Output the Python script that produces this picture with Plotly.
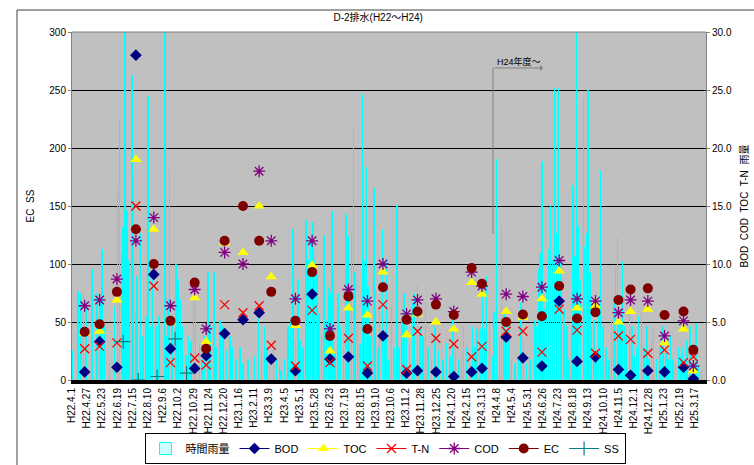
import datetime as dt
import plotly.graph_objects as go

# ---------------- data ----------------
title_text = "D-2排水(H22～H24)"
start_date = "2010-04-01"  # H22.4.1

tick_labels = ["H22.4.1", "H22.4.27", "H22.5.23", "H22.6.19", "H22.7.15", "H22.8.10", "H22.9.6",
               "H22.10.2", "H22.10.29", "H22.11.24", "H22.12.20", "H23.1.16", "H23.2.11", "H23.3.9",
               "H23.4.5", "H23.5.1", "H23.5.28", "H23.6.23", "H23.7.19", "H23.8.15", "H23.9.10",
               "H23.10.6", "H23.11.2", "H23.11.28", "H23.12.25", "H24.1.20", "H24.2.15", "H24.3.13",
               "H24.4.8", "H24.5.4", "H24.5.31", "H24.6.26", "H24.7.23", "H24.8.18", "H24.9.13",
               "H24.10.10", "H24.11.5", "H24.12.1", "H24.12.28", "H25.1.23", "H25.2.19", "H25.3.17"]

# hourly rainfall (mm): day since H22.4.1 and amount
rain_day = [1, 11, 16, 21, 25, 36, 44, 49, 53, 57, 66, 75, 80, 83, 87, 89, 93, 96, 100, 105,
            107, 111, 114, 120, 124, 129, 133, 137, 141, 147, 152, 162, 164, 168, 170, 175, 181, 185, 189, 193,
            199, 203, 208, 212, 215, 222, 227, 231, 237, 241, 247, 251, 258, 263, 269, 275, 279, 286, 293, 298,
            306, 318, 325, 330, 335, 339, 344, 351, 356, 361, 364, 370, 376, 380, 385, 389, 393, 397, 402, 407,
            411, 415, 419, 422, 426, 430, 434, 438, 443, 447, 450, 452, 454, 458, 463, 467, 472, 477, 480, 483,
            486, 490, 492, 497, 501, 505, 508, 512, 515, 518, 521, 525, 528, 532, 535, 540, 544, 547, 551, 556,
            560, 565, 569, 574, 577, 582, 587, 592, 596, 601, 605, 610, 615, 619, 625, 631, 637, 645, 651, 657,
            663, 667, 673, 677, 681, 686, 691, 696, 701, 704, 709, 714, 718, 721, 726, 731, 734, 738, 743, 747,
            751, 755, 760, 764, 770, 776, 781, 785, 790, 796, 805, 807, 812, 814, 817, 821, 825, 828, 832, 835,
            839, 842, 846, 850, 855, 860, 864, 868, 871, 874, 877, 880, 884, 889, 891, 894, 897, 900, 903, 907,
            911, 915, 919, 923, 928, 933, 938, 942, 945, 948, 951, 954, 957, 961, 964, 969, 973, 977, 981, 985,
            990, 994, 999, 1003, 1007, 1011, 1016, 1022, 1027, 1032, 1036, 1040, 1045, 1049, 1054, 1058, 1061, 1065, 1069, 1074,
            1080, 1084, 1089, 1094]
rain_mm = [2.5, 7.6, 7.4, 7.6, 6.6, 9.5, 7.4, 6.9, 11.2, 4.6, 1.5, 6.3, 16.7, 22.3, 10.9, 13.2, 31.0, 14.6, 10.3, 26.2,
           17.5, 5.7, 8.9, 12.6, 3.7, 5.4, 24.4, 4.6, 9.2, 4.6, 5.4, 31.0, 3.7, 6.9, 18.1, 5.4, 9.9, 8.6, 6.9, 4.6,
           2.1, 3.7, 3.3, 8.0, 6.9, 3.1, 1.7, 3.7, 9.2, 4.6, 9.2, 2.8, 5.1, 4.6, 2.5, 3.7, 2.8, 1.7, 2.8, 1.4,
           1.7, 2.0, 5.7, 2.2, 4.6, 2.8, 1.5, 3.4, 1.7, 1.1, 0.8, 1.7, 4.6, 5.1, 12.9, 3.3, 8.6, 3.4, 2.8, 13.7,
           10.3, 12.0, 13.5, 10.3, 9.2, 5.7, 3.7, 12.4, 5.1, 7.9, 7.4, 14.5, 9.5, 2.2, 7.4, 4.6, 2.8, 14.2, 12.3, 7.4,
           12.6, 21.6, 9.2, 4.8, 3.1, 24.6, 10.3, 18.3, 8.0, 3.7, 4.6, 16.5, 7.7, 2.8, 6.3, 12.9, 4.0, 10.3, 1.7, 6.3,
           2.8, 15.0, 2.8, 5.4, 7.4, 4.6, 3.1, 6.6, 7.4, 8.2, 4.6, 3.7, 6.6, 2.8, 1.7, 4.6, 2.5, 1.7, 3.1, 2.0,
           6.0, 3.1, 1.7, 2.2, 4.6, 2.8, 2.2, 4.6, 2.8, 4.3, 4.4, 8.0, 4.3, 8.9, 4.8, 2.0, 5.8, 19.0, 3.7, 13.2,
           5.7, 3.1, 4.6, 1.7, 1.4, 1.7, 6.6, 3.4, 1.4, 1.7, 5.1, 4.6, 9.5, 10.9, 18.8, 6.0, 8.0, 11.2, 15.0, 10.3,
           25.1, 12.6, 25.1, 10.3, 6.0, 4.6, 1.7, 4.6, 16.7, 10.6, 31.0, 13.2, 8.6, 24.2, 11.5, 12.6, 24.9, 9.2, 4.6, 5.1,
           2.2, 6.0, 18.0, 4.6, 2.8, 1.7, 5.1, 6.6, 9.7, 12.2, 5.7, 5.1, 10.2, 4.6, 3.7, 8.0, 4.6, 2.0, 2.8, 5.4,
           5.7, 2.8, 4.6, 1.7, 3.4, 4.3, 1.7, 2.8, 4.6, 2.2, 1.7, 3.7, 1.7, 1.4, 2.8, 2.0, 2.8, 1.7, 3.4, 4.6,
           1.7, 4.8, 1.1, 0.8]

sample_dates = ["2010-04-23", "2010-05-19", "2010-06-18", "2010-07-21", "2010-08-21", "2010-09-19",
                "2010-10-31", "2010-11-20", "2010-12-22", "2011-01-23", "2011-02-20", "2011-03-13",
                "2011-04-24", "2011-05-23", "2011-06-23", "2011-07-25", "2011-08-27", "2011-09-23",
                "2011-11-03", "2011-11-22", "2011-12-24", "2012-01-24", "2012-02-24", "2012-03-13",
                "2012-04-24", "2012-05-23", "2012-06-25", "2012-07-25", "2012-08-25", "2012-09-26",
                "2012-11-05", "2012-11-26", "2012-12-26", "2013-01-24", "2013-02-26", "2013-03-15"]
bod = [0.7, 3.3, 1.1, 28.0, 9.1, 2.7, 1.0, 2.1, 4.0, 5.2, 5.8, 1.8,
       0.8, 7.4, 1.8, 2.0, 0.6, 3.8, 0.6, 0.8, 0.7, 0.3, 0.7, 1.0,
       3.7, 1.9, 1.2, 6.8, 1.6, 2.0, 0.9, 0.4, 0.8, 0.7, 1.1, 0.1]
toc = [4.0, 4.2, 6.9, 19.0, 13.0, 5.0, 7.1, 3.3, 11.8, 11.0, 15.0, 8.9,
       4.7, 9.9, 2.5, 6.2, 5.6, 9.3, 3.9, 5.7, 5.0, 4.4, 8.4, 7.4,
       5.9, 5.4, 7.0, 9.4, 6.2, 6.4, 5.0, 5.9, 6.1, 3.2, 4.4, 0.8]
tn = [2.7, 2.9, 3.2, 15.0, 8.1, 1.5, 1.9, 1.3, 6.5, 5.8, 6.4, 3.0,
      1.2, 6.0, 1.5, 3.6, 1.2, 6.5, 0.9, 4.2, 3.6, 3.1, 2.0, 2.9,
      4.2, 4.2, 2.4, 6.1, 4.3, 2.3, 3.8, 3.5, 2.3, 2.6, 1.5, 2.0]
cod = [6.4, 6.9, 8.7, 12.0, 14.0, 6.4, 7.8, 4.4, 11.0, 10.0, 18.0, 12.0,
       7.0, 12.0, 4.4, 7.8, 6.8, 10.0, 5.7, 6.9, 7.0, 5.9, 9.3, 8.1,
       7.4, 7.2, 8.0, 10.3, 7.0, 6.8, 5.8, 6.9, 6.8, 3.8, 5.1, 1.2]
ec = [41.5, 48, 76, 130, 100, 51, 84, 27, 120, 150, 120, 76,
      51, 93, 38, 72, 44, 80, 52, 59, 65, 56, 96.5, 83,
      50, 56.5, 55, 81, 53, 58.5, 69, 78, 79, 56, 59, 26]
ss_dates = ["2010-06-29", "2010-07-25", "2010-08-27", "2010-09-27", "2010-10-17"]
ss = [33, 0, 3, 35.5, 6]

fy_start = "2012-04-01"   # H24年度 start
fy_label = "H24年度～"

# ---------------- helpers ----------------
d0 = dt.date.fromisoformat(start_date)
rain_dates = [(d0 + dt.timedelta(days=d)).isoformat() for d in rain_day]


def wareki_to_iso(lbl):
    y, m, d = lbl[1:].split(".")
    return dt.date(1988 + int(y), int(m), int(d)).isoformat()


tick_vals = [wareki_to_iso(t) for t in tick_labels]


def gapped(xs, ys):
    ox, oy = [], []
    for a, b in zip(xs, ys):
        ox += [a, None]
        oy += [b, None]
    return ox, oy


FONT = "Liberation Sans, Noto Sans CJK JP, sans-serif"

# ---------------- figure ----------------
W, H = 754, 465
L, R, T, B = 72, 706, 32, 380


def px_x(p):
    return (p - L) / (R - L)


def px_y(p):
    return (B - p) / (B - T)


fig = go.Figure()

fig.add_trace(go.Bar(x=rain_dates, y=rain_mm, name="時間雨量", yaxis="y",
                     width=1.0 * 86400000,
                     marker=dict(color="#CCFFFF", line=dict(color="#00FFFF", width=1))))

series = [
    ("BOD", bod, dict(symbol="diamond", size=9, color="#000080"), "#000080"),
    ("TOC", toc, dict(symbol="triangle-up", size=10, color="#FFFF00"), "#FFFF00"),
    ("T-N", tn, dict(symbol="x-thin-open", size=9, color="#FF0000",
                     line=dict(color="#FF0000", width=1.3)), "#FF0000"),
    ("COD", cod, dict(symbol="asterisk-open", size=10, color="#800080",
                      line=dict(color="#800080", width=1.3)), "#800080"),
]
for name, vals, mk, col in series:
    gx, gy = gapped(sample_dates, vals)
    fig.add_trace(go.Scatter(x=gx, y=gy, name=name, yaxis="y", mode="lines+markers",
                             connectgaps=False, marker=mk, line=dict(color=col, width=1)))

gx, gy = gapped(sample_dates, ec)
fig.add_trace(go.Scatter(x=gx, y=gy, name="EC", yaxis="y2", mode="lines+markers", connectgaps=False,
                         marker=dict(symbol="circle", size=10, color="#800000"),
                         line=dict(color="#800000", width=1)))
gx, gy = gapped(ss_dates, ss)
fig.add_trace(go.Scatter(x=gx, y=gy, name="SS", yaxis="y2", mode="lines+markers", connectgaps=False,
                         marker=dict(symbol="cross-thin-open", size=10, color="#008080",
                                     line=dict(color="#008080", width=1.2)),
                         line=dict(color="#008080", width=1)))

# fiscal-year marker
fig.add_shape(type="line", xref="x", yref="y", x0=fy_start, x1=fy_start, y0=12.6, y1=26.9,
              line=dict(color="#808080", width=1))
fig.add_annotation(xref="x", yref="y", x="2012-06-27", y=26.9, axref="x", ayref="y",
                   ax=fy_start, ay=26.9, text="", showarrow=True, arrowhead=1, arrowsize=1,
                   arrowwidth=1, arrowcolor="#808080")
fig.add_annotation(xref="x", yref="y", x="2012-05-16", y=27.5, text=fy_label, showarrow=False,
                   font=dict(size=9, color="#000000", family=FONT))

# outer chart border
fig.add_shape(type="rect", xref="paper", yref="paper", x0=px_x(17), x1=px_x(800),
              y0=px_y(520), y1=px_y(10), line=dict(color="#404040", width=1), layer="above")

fig.update_layout(
    width=W, height=H,
    margin=dict(l=L, r=W - R, t=T, b=H - B, pad=0, autoexpand=False),
    paper_bgcolor="white", plot_bgcolor="#C0C0C0",
    font=dict(family=FONT, size=10, color="#000000"),
    title=dict(text=title_text, x=px_x(390), xanchor="center", y=1 - 17 / H, yanchor="middle",
               font=dict(size=10, family=FONT)),
    barmode="overlay", bargap=0,
    showlegend=True,
    legend=dict(orientation="h", xref="container", yref="container",
                x=385 / W, y=1 - 464 / H, xanchor="center", yanchor="bottom",
                bordercolor="#000000", borderwidth=1, bgcolor="white",
                font=dict(size=11, family=FONT), itemwidth=30, tracegroupgap=0),
    xaxis=dict(type="date", range=[start_date, "2013-04-06"], tickmode="array",
               tickvals=tick_vals, ticktext=tick_labels, tickangle=-90,
               tickfont=dict(size=10), showgrid=False, showline=True, linecolor="#000000",
               linewidth=4, ticks="", zeroline=False, mirror=False),
    yaxis=dict(side="right", range=[0, 30], dtick=5, tickformat=".1f",
               showgrid=True, gridcolor="#000000", gridwidth=1, zeroline=False,
               showline=True, linecolor="#808080", linewidth=1, ticks="outside", ticklen=3,
               tickcolor="#808080", tickfont=dict(size=10),
               title=dict(text="BOD  COD  TOC  T-N  雨量", font=dict(size=10), standoff=10)),
    yaxis2=dict(side="left", overlaying="y", range=[0, 300], dtick=50, showgrid=False,
                zeroline=False, showline=True, linecolor="#808080", linewidth=1, ticks="outside",
                ticklen=3, tickcolor="#808080", tickfont=dict(size=10),
                title=dict(text="EC  SS", font=dict(size=10), standoff=12)),
)

# top border of plot area
fig.add_shape(type="line", xref="paper", yref="paper", x0=0, x1=1, y0=1, y1=1,
              line=dict(color="#808080", width=1))

fig.write_html("out.html", config={"displayModeBar": False},
               post_script="document.body.style.margin='0';document.body.style.overflow='hidden';")
